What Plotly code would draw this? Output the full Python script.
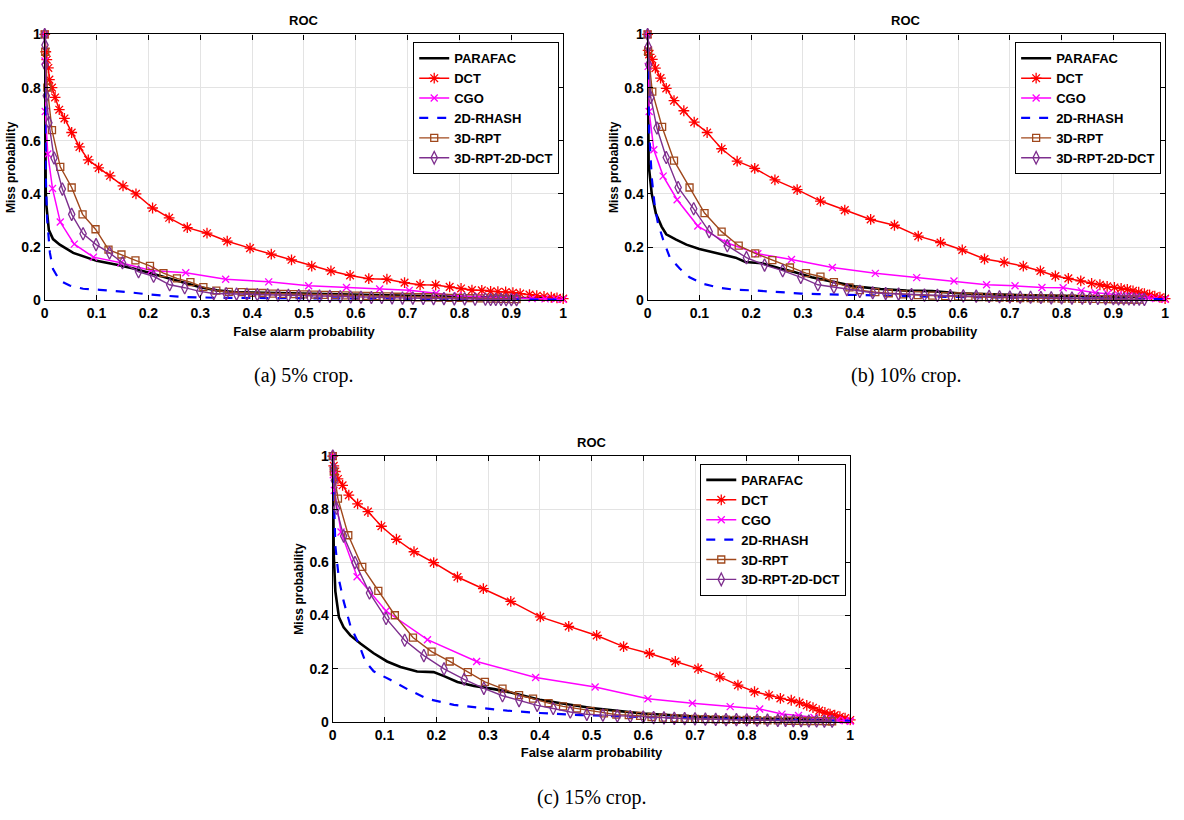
import plotly.graph_objects as go

# ---------------- text ----------------
SERIES = ["PARAFAC", "DCT", "CGO", "2D-RHASH", "3D-RPT", "3D-RPT-2D-DCT"]
PANEL_TITLE = "ROC"
X_TITLE = "False alarm probability"
Y_TITLE = "Miss probability"
CAPTIONS = ["(a) 5% crop.", "(b) 10% crop.", "(c) 15% crop."]
X_TICKS = [0, 0.1, 0.2, 0.3, 0.4, 0.5, 0.6, 0.7, 0.8, 0.9, 1]
X_TICK_LABELS = ["0", "0.1", "0.2", "0.3", "0.4", "0.5", "0.6", "0.7", "0.8", "0.9", "1"]
Y_TICKS = [0, 0.2, 0.4, 0.6, 0.8, 1]
Y_TICK_LABELS = ["0", "0.2", "0.4", "0.6", "0.8", "1"]

# ---------------- (a) 5% crop ----------------
A_PARAFAC_X = [0, 0.0005, 0.001, 0.002, 0.003, 0.008, 0.016, 0.029, 0.055, 0.1, 0.139, 0.171, 0.203, 0.235, 0.268, 0.3, 0.332, 0.365, 0.4, 0.5, 0.6, 0.7, 0.8, 0.9, 1.0]
A_PARAFAC_Y = [1, 0.7, 0.5, 0.41, 0.36, 0.264, 0.23, 0.209, 0.178, 0.148, 0.133, 0.119, 0.102, 0.084, 0.068, 0.049, 0.037, 0.031, 0.029, 0.025, 0.022, 0.018, 0.014, 0.01, 0.005]
A_DCT_X = [0, 0.002, 0.004, 0.007, 0.009, 0.014, 0.020, 0.028, 0.038, 0.052, 0.067, 0.084, 0.104, 0.126, 0.151, 0.176, 0.208, 0.240, 0.275, 0.313, 0.352, 0.396, 0.437, 0.476, 0.515, 0.552, 0.589, 0.625, 0.660, 0.694, 0.724, 0.754, 0.781, 0.803, 0.824, 0.843, 0.860, 0.874, 0.889, 0.903, 0.917, 0.935, 0.949, 0.963, 0.977, 0.988, 1.0]
A_DCT_Y = [1.0, 0.935, 0.905, 0.874, 0.83, 0.80, 0.763, 0.717, 0.684, 0.631, 0.577, 0.528, 0.498, 0.468, 0.43, 0.40, 0.347, 0.31, 0.273, 0.252, 0.222, 0.196, 0.173, 0.152, 0.128, 0.11, 0.093, 0.081, 0.079, 0.066, 0.058, 0.057, 0.05, 0.044, 0.038, 0.037, 0.033, 0.032, 0.031, 0.028, 0.025, 0.021, 0.017, 0.014, 0.011, 0.009, 0.006]
A_CGO_X = [0, 0.0005, 0.001, 0.006, 0.015, 0.030, 0.057, 0.094, 0.147, 0.205, 0.272, 0.349, 0.432, 0.509, 0.582, 0.646, 0.703, 0.755, 0.797, 0.838, 0.875, 0.91, 0.94, 0.965, 0.985, 1.0]
A_CGO_Y = [1.0, 0.9, 0.71, 0.55, 0.42, 0.294, 0.211, 0.162, 0.141, 0.112, 0.103, 0.079, 0.069, 0.054, 0.048, 0.042, 0.037, 0.026, 0.017, 0.012, 0.010, 0.008, 0.006, 0.005, 0.004, 0.003]
A_RHASH_X = [0, 0.001, 0.002, 0.0045, 0.01, 0.016, 0.029, 0.048, 0.074, 0.106, 0.158, 0.203, 0.268, 0.332, 0.4, 0.5, 0.6, 0.7, 0.8, 0.9, 1.0]
A_RHASH_Y = [1, 0.8, 0.47, 0.31, 0.178, 0.117, 0.074, 0.055, 0.043, 0.039, 0.031, 0.021, 0.012, 0.009, 0.008, 0.007, 0.006, 0.005, 0.004, 0.003, 0.002]
A_RPT_X = [0, 0.001, 0.005, 0.014, 0.030, 0.052, 0.073, 0.098, 0.123, 0.148, 0.175, 0.203, 0.229, 0.255, 0.281, 0.306, 0.331, 0.355, 0.38, 0.40, 0.42, 0.44, 0.46, 0.48, 0.50, 0.52, 0.54, 0.56, 0.58, 0.60, 0.62, 0.64, 0.66, 0.68, 0.70, 0.72, 0.74, 0.76, 0.78, 0.80, 0.82, 0.84, 0.86, 0.87, 0.88, 0.89, 0.90, 0.91]
A_RPT_Y = [1, 0.935, 0.80, 0.64, 0.502, 0.424, 0.323, 0.267, 0.19, 0.172, 0.15, 0.129, 0.102, 0.082, 0.068, 0.049, 0.036, 0.031, 0.03, 0.028, 0.027, 0.025, 0.024, 0.023, 0.022, 0.021, 0.02, 0.019, 0.018, 0.017, 0.016, 0.015, 0.014, 0.013, 0.012, 0.011, 0.011, 0.010, 0.009, 0.009, 0.008, 0.007, 0.006, 0.006, 0.005, 0.005, 0.004, 0.004]
A_RPT2D_X = [0, 0.0005, 0.001, 0.003, 0.008, 0.018, 0.034, 0.052, 0.074, 0.099, 0.125, 0.15, 0.181, 0.21, 0.241, 0.27, 0.299, 0.326, 0.35, 0.37, 0.39, 0.41, 0.43, 0.45, 0.47, 0.49, 0.51, 0.53, 0.55, 0.57, 0.59, 0.61, 0.63, 0.65, 0.67, 0.69, 0.71, 0.73, 0.75, 0.77, 0.79, 0.81, 0.83, 0.85, 0.86, 0.87, 0.88, 0.89, 0.90, 0.91]
A_RPT2D_Y = [1, 0.96, 0.886, 0.769, 0.668, 0.535, 0.418, 0.323, 0.25, 0.209, 0.178, 0.141, 0.107, 0.09, 0.058, 0.047, 0.033, 0.025, 0.024, 0.023, 0.022, 0.021, 0.02, 0.019, 0.018, 0.017, 0.016, 0.015, 0.014, 0.013, 0.012, 0.011, 0.010, 0.010, 0.009, 0.008, 0.008, 0.007, 0.006, 0.006, 0.005, 0.005, 0.004, 0.004, 0.003, 0.003, 0.003, 0.002, 0.002, 0.002]

# ---------------- (b) 10% crop ----------------
B_PARAFAC_X = [0, 0.0006, 0.002, 0.008, 0.016, 0.027, 0.036, 0.055, 0.075, 0.1, 0.138, 0.17, 0.189, 0.221, 0.253, 0.285, 0.317, 0.361, 0.4, 0.45, 0.5, 0.55, 0.6, 0.7, 0.8, 0.9, 1.0]
B_PARAFAC_Y = [1, 0.658, 0.51, 0.40, 0.326, 0.277, 0.248, 0.228, 0.209, 0.193, 0.175, 0.16, 0.144, 0.139, 0.121, 0.105, 0.086, 0.068, 0.052, 0.042, 0.036, 0.034, 0.026, 0.02, 0.017, 0.015, 0.01]
B_DCT_X = [0, 0.001, 0.003, 0.009, 0.015, 0.025, 0.036, 0.051, 0.07, 0.09, 0.115, 0.143, 0.173, 0.207, 0.246, 0.289, 0.334, 0.381, 0.431, 0.477, 0.523, 0.566, 0.608, 0.651, 0.689, 0.726, 0.759, 0.788, 0.813, 0.837, 0.858, 0.874, 0.888, 0.902, 0.915, 0.927, 0.938, 0.949, 0.96, 0.97, 0.98, 0.99, 1.0]
B_DCT_Y = [1, 0.94, 0.925, 0.906, 0.873, 0.836, 0.797, 0.751, 0.713, 0.67, 0.631, 0.57, 0.523, 0.496, 0.453, 0.416, 0.373, 0.339, 0.304, 0.282, 0.241, 0.217, 0.189, 0.155, 0.143, 0.128, 0.11, 0.091, 0.082, 0.073, 0.063, 0.058, 0.052, 0.048, 0.044, 0.041, 0.035, 0.03, 0.025, 0.02, 0.015, 0.011, 0.006]
B_CGO_X = [0, 0.001, 0.003, 0.012, 0.03, 0.057, 0.097, 0.154, 0.213, 0.278, 0.357, 0.44, 0.52, 0.592, 0.655, 0.71, 0.762, 0.803, 0.838, 0.865, 0.889, 0.91, 0.93, 0.95, 0.967, 0.982, 1.0]
B_CGO_Y = [1, 0.88, 0.71, 0.566, 0.467, 0.378, 0.279, 0.215, 0.175, 0.153, 0.123, 0.101, 0.085, 0.072, 0.058, 0.054, 0.048, 0.047, 0.035, 0.028, 0.024, 0.02, 0.016, 0.012, 0.009, 0.006, 0.003]
B_RHASH_X = [0, 0.001, 0.003, 0.008, 0.014, 0.02, 0.03, 0.043, 0.062, 0.081, 0.106, 0.138, 0.17, 0.202, 0.234, 0.266, 0.297, 0.329, 0.361, 0.4, 0.5, 0.6, 0.7, 0.8, 0.9, 1.0]
B_RHASH_Y = [1, 0.78, 0.633, 0.461, 0.351, 0.289, 0.228, 0.16, 0.119, 0.086, 0.062, 0.047, 0.039, 0.037, 0.033, 0.028, 0.025, 0.023, 0.021, 0.02, 0.015, 0.012, 0.009, 0.007, 0.005, 0.004]
B_RPT_X = [0, 0.001, 0.009, 0.028, 0.051, 0.081, 0.11, 0.143, 0.176, 0.208, 0.241, 0.275, 0.306, 0.334, 0.36, 0.39, 0.41, 0.44, 0.466, 0.494, 0.522, 0.55, 0.575, 0.6, 0.62, 0.64, 0.66, 0.68, 0.70, 0.72, 0.74, 0.76, 0.78, 0.80, 0.82, 0.84, 0.86, 0.88, 0.89, 0.90, 0.91, 0.92, 0.93, 0.94, 0.95]
B_RPT_Y = [1, 0.935, 0.785, 0.652, 0.525, 0.424, 0.328, 0.258, 0.205, 0.176, 0.151, 0.123, 0.102, 0.089, 0.068, 0.048, 0.038, 0.03, 0.026, 0.022, 0.019, 0.017, 0.015, 0.014, 0.013, 0.012, 0.011, 0.01, 0.009, 0.008, 0.008, 0.007, 0.007, 0.006, 0.006, 0.005, 0.005, 0.004, 0.004, 0.004, 0.003, 0.003, 0.003, 0.002, 0.002]
B_RPT2D_X = [0, 0.001, 0.002, 0.006, 0.018, 0.036, 0.059, 0.089, 0.119, 0.154, 0.191, 0.226, 0.261, 0.296, 0.329, 0.36, 0.385, 0.41, 0.435, 0.46, 0.485, 0.51, 0.535, 0.56, 0.585, 0.61, 0.635, 0.66, 0.68, 0.70, 0.72, 0.74, 0.76, 0.78, 0.80, 0.82, 0.84, 0.855, 0.87, 0.885, 0.90, 0.91, 0.92, 0.93, 0.94, 0.95, 0.96]
B_RPT2D_Y = [1, 0.953, 0.886, 0.763, 0.648, 0.537, 0.424, 0.344, 0.258, 0.205, 0.16, 0.132, 0.111, 0.086, 0.058, 0.049, 0.04, 0.033, 0.028, 0.025, 0.023, 0.021, 0.019, 0.018, 0.017, 0.016, 0.015, 0.014, 0.013, 0.012, 0.011, 0.011, 0.010, 0.009, 0.009, 0.008, 0.008, 0.007, 0.007, 0.006, 0.006, 0.005, 0.005, 0.005, 0.004, 0.004, 0.003]

# ---------------- (c) 15% crop ----------------
C_PARAFAC_X = [0, 0.0006, 0.002, 0.005, 0.012, 0.021, 0.034, 0.054, 0.079, 0.105, 0.131, 0.163, 0.195, 0.215, 0.241, 0.273, 0.312, 0.344, 0.4, 0.45, 0.5, 0.55, 0.6, 0.7, 0.8, 0.9, 1.0]
C_PARAFAC_Y = [1, 0.785, 0.626, 0.491, 0.393, 0.356, 0.325, 0.294, 0.258, 0.227, 0.206, 0.189, 0.187, 0.172, 0.15, 0.135, 0.123, 0.11, 0.083, 0.067, 0.052, 0.041, 0.031, 0.02, 0.013, 0.009, 0.005]
C_DCT_X = [0, 0.002, 0.005, 0.01, 0.019, 0.031, 0.048, 0.068, 0.094, 0.123, 0.157, 0.195, 0.241, 0.291, 0.344, 0.401, 0.456, 0.51, 0.562, 0.612, 0.662, 0.706, 0.748, 0.783, 0.815, 0.843, 0.865, 0.886, 0.902, 0.916, 0.928, 0.94, 0.951, 0.961, 0.97, 0.98, 0.99, 1.0]
C_DCT_Y = [1, 0.963, 0.942, 0.914, 0.89, 0.853, 0.82, 0.791, 0.736, 0.687, 0.64, 0.599, 0.545, 0.501, 0.453, 0.395, 0.359, 0.325, 0.283, 0.257, 0.227, 0.2, 0.169, 0.138, 0.113, 0.1, 0.088, 0.081, 0.072, 0.062, 0.053, 0.042, 0.035, 0.029, 0.025, 0.019, 0.014, 0.007]
C_CGO_X = [0, 0.001, 0.003, 0.016, 0.047, 0.103, 0.183, 0.278, 0.392, 0.507, 0.609, 0.695, 0.768, 0.825, 0.868, 0.9, 0.93, 0.955, 0.975, 0.99, 1.0]
C_CGO_Y = [1, 0.93, 0.871, 0.714, 0.546, 0.417, 0.309, 0.227, 0.167, 0.131, 0.087, 0.07, 0.057, 0.048, 0.029, 0.024, 0.016, 0.011, 0.007, 0.004, 0.002]
C_RHASH_X = [0, 0.002, 0.005, 0.012, 0.021, 0.034, 0.05, 0.063, 0.079, 0.112, 0.144, 0.183, 0.234, 0.286, 0.337, 0.4, 0.48, 0.6, 0.7, 0.8, 0.9, 1.0]
C_RHASH_Y = [1, 0.822, 0.663, 0.534, 0.454, 0.362, 0.294, 0.227, 0.19, 0.157, 0.123, 0.086, 0.064, 0.052, 0.042, 0.033, 0.025, 0.018, 0.013, 0.009, 0.006, 0.004]
C_RPT_X = [0, 0.002, 0.01, 0.03, 0.057, 0.088, 0.12, 0.155, 0.191, 0.226, 0.261, 0.294, 0.328, 0.36, 0.387, 0.417, 0.445, 0.472, 0.498, 0.524, 0.548, 0.572, 0.594, 0.616, 0.638, 0.66, 0.68, 0.70, 0.72, 0.74, 0.76, 0.78, 0.80, 0.82, 0.84, 0.86, 0.88, 0.895, 0.91, 0.925, 0.94, 0.955, 0.965]
C_RPT_Y = [1, 0.942, 0.84, 0.702, 0.583, 0.493, 0.401, 0.317, 0.264, 0.227, 0.187, 0.15, 0.125, 0.1, 0.087, 0.07, 0.058, 0.05, 0.041, 0.032, 0.027, 0.025, 0.022, 0.018, 0.016, 0.014, 0.012, 0.011, 0.01, 0.009, 0.008, 0.007, 0.007, 0.006, 0.005, 0.005, 0.004, 0.004, 0.003, 0.003, 0.003, 0.002, 0.002]
C_RPT2D_X = [0, 0.001, 0.003, 0.007, 0.021, 0.043, 0.071, 0.103, 0.139, 0.176, 0.215, 0.254, 0.292, 0.328, 0.36, 0.395, 0.426, 0.459, 0.491, 0.522, 0.55, 0.575, 0.6, 0.62, 0.64, 0.66, 0.68, 0.70, 0.72, 0.74, 0.76, 0.78, 0.80, 0.82, 0.84, 0.86, 0.875, 0.89, 0.905, 0.92, 0.935, 0.95, 0.965]
C_RPT2D_Y = [1, 0.957, 0.908, 0.804, 0.699, 0.599, 0.485, 0.389, 0.307, 0.249, 0.199, 0.16, 0.126, 0.098, 0.08, 0.062, 0.05, 0.037, 0.028, 0.025, 0.022, 0.02, 0.018, 0.016, 0.015, 0.013, 0.012, 0.011, 0.01, 0.009, 0.008, 0.008, 0.007, 0.006, 0.006, 0.005, 0.005, 0.004, 0.004, 0.003, 0.003, 0.002, 0.002]

PANELS = [
    [(A_PARAFAC_X, A_PARAFAC_Y), (A_DCT_X, A_DCT_Y), (A_CGO_X, A_CGO_Y),
     (A_RHASH_X, A_RHASH_Y), (A_RPT_X, A_RPT_Y), (A_RPT2D_X, A_RPT2D_Y)],
    [(B_PARAFAC_X, B_PARAFAC_Y), (B_DCT_X, B_DCT_Y), (B_CGO_X, B_CGO_Y),
     (B_RHASH_X, B_RHASH_Y), (B_RPT_X, B_RPT_Y), (B_RPT2D_X, B_RPT2D_Y)],
    [(C_PARAFAC_X, C_PARAFAC_Y), (C_DCT_X, C_DCT_Y), (C_CGO_X, C_CGO_Y),
     (C_RHASH_X, C_RHASH_Y), (C_RPT_X, C_RPT_Y), (C_RPT2D_X, C_RPT2D_Y)],
]

# ---------------- styles ----------------
STYLE = {
    "PARAFAC": dict(color="#000000", width=2.6, dash="solid", symbol=None, size=0),
    "DCT": dict(color="#ff0000", width=1.5, dash="solid", symbol="asterisk-open", size=9),
    "CGO": dict(color="#ff00ff", width=1.5, dash="solid", symbol="x-thin-open", size=7),
    "2D-RHASH": dict(color="#0000ff", width=2.2, dash="dash", symbol=None, size=0),
    "3D-RPT": dict(color="#a0481c", width=1.4, dash="solid", symbol="square-open", size=7),
    "3D-RPT-2D-DCT": dict(color="#7e2f8e", width=1.4, dash="solid", symbol="diamond-tall-open", size=9),
}

W, H = 1184, 820
# plot-area pixel boxes: (left, right, top, bottom)
BOXES = [(41, 563, 27, 298), (648, 1169, 27, 298), (331, 852, 457, 728)]
LEGEND_POS = [(559, 35), (1165, 35), (848, 465)]
CAPTION_Y = [375, 375, 805]

TICK_FONT = dict(family="Liberation Sans Narrow, Arial Narrow, Liberation Sans", size=14, color="black")
LAB_FONT = dict(family="Liberation Sans Narrow, Arial Narrow, Liberation Sans", size=13, color="black")
YLAB_FONT = dict(family="Liberation Sans, Arial", size=12, color="black")
CAP_FONT = dict(family="Liberation Serif, DejaVu Serif", size=20, color="black")

fig = go.Figure()
for p, panel in enumerate(PANELS):
    sfx = "" if p == 0 else str(p + 1)
    leg = "legend" if p == 0 else "legend" + str(p + 1)
    for name, (xs, ys) in zip(SERIES, panel):
        st = STYLE[name]
        mode = "lines" if st["symbol"] is None else "lines+markers"
        tr = dict(x=xs, y=ys, mode=mode, name="<b>" + name + "</b>",
                  line=dict(color=st["color"], width=st["width"], dash=st["dash"]),
                  xaxis="x" + sfx, yaxis="y" + sfx, legend=leg, cliponaxis=False)
        if st["symbol"] is not None:
            tr["marker"] = dict(symbol=st["symbol"], size=st["size"], color=st["color"],
                                line=dict(color=st["color"], width=1.3))
        fig.add_trace(go.Scatter(**tr))

layout = dict(width=W, height=H, margin=dict(l=0, r=0, t=0, b=0),
              paper_bgcolor="white", plot_bgcolor="white", showlegend=True,
              annotations=[])
for p, (l, r, t, b) in enumerate(BOXES):
    sfx = "" if p == 0 else str(p + 1)
    xdom = [l / W, r / W]
    ydom = [1 - b / H, 1 - t / H]
    common = dict(showline=True, linecolor="black", linewidth=1.2, mirror="ticks",
                  ticks="inside", ticklen=5, tickcolor="black", showgrid=True,
                  gridcolor="#e3e3e3", gridwidth=1, zeroline=False, range=[0, 1],
                  tickfont=TICK_FONT)
    layout["xaxis" + sfx] = dict(domain=xdom, anchor="y" + sfx, tickvals=X_TICKS,
                                 ticktext=["<b>" + s + "</b>" for s in X_TICK_LABELS],
                                 title=dict(text="<b>" + X_TITLE + "</b>", font=LAB_FONT, standoff=6),
                                 **common)
    layout["yaxis" + sfx] = dict(domain=ydom, anchor="x" + sfx, tickvals=Y_TICKS,
                                 ticktext=["<b>" + s + "</b>" for s in Y_TICK_LABELS],
                                 title=dict(text="<b>" + Y_TITLE + "</b>", font=YLAB_FONT, standoff=3),
                                 **common)
    lx, ly = LEGEND_POS[p]
    layout["legend" if p == 0 else "legend" + str(p + 1)] = dict(
        x=lx / W, y=1 - ly / H, xanchor="right", yanchor="top", bgcolor="white",
        bordercolor="black", borderwidth=1, font=LAB_FONT, tracegroupgap=0,
        itemwidth=30)
    cx = (l + r) / 2 / W
    layout["annotations"].append(dict(text="<b>" + PANEL_TITLE + "</b>", x=cx, y=1 - (t - 14) / H,
                                      xref="paper", yref="paper", showarrow=False,
                                      xanchor="center", yanchor="middle", font=LAB_FONT))
    layout["annotations"].append(dict(text=CAPTIONS[p], x=cx, y=1 - CAPTION_Y[p] / H,
                                      xref="paper", yref="paper", showarrow=False,
                                      xanchor="center", yanchor="middle", font=CAP_FONT))

fig.update_layout(**layout)
fig.write_html("out.html")
